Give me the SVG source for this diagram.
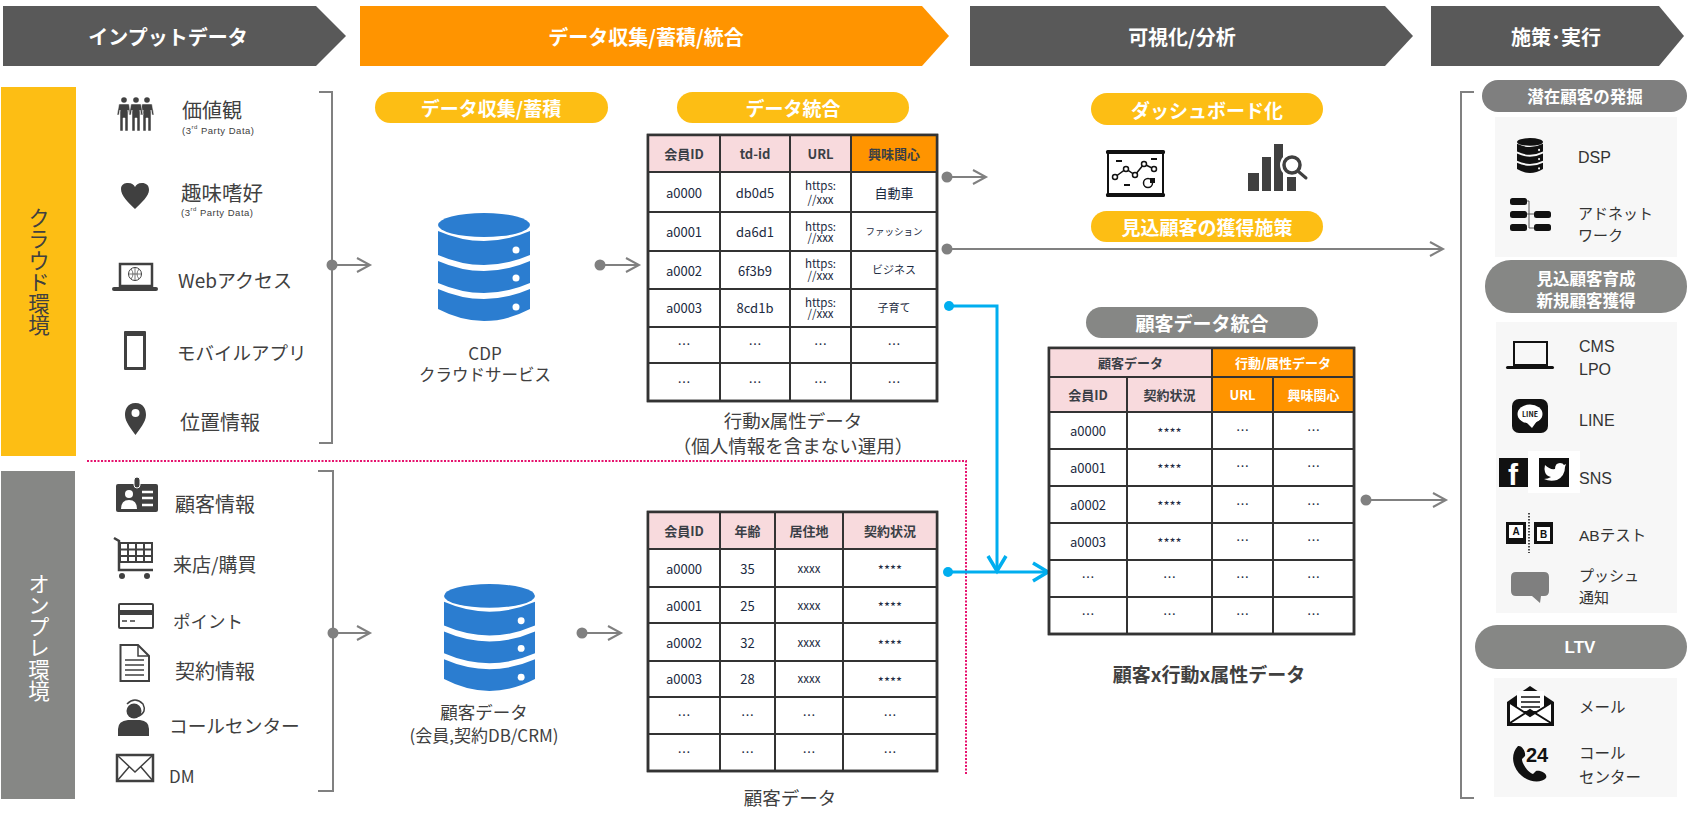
<svg xmlns="http://www.w3.org/2000/svg" width="1700" height="820" viewBox="0 0 1700 820">
<style>
text{font-family:"Noto Sans CJK JP","Noto Sans",sans-serif;dominant-baseline:central;fill:#404040}
.m{text-anchor:middle}
.hd{font-size:20px;font-weight:700;fill:#fff;text-anchor:middle}
.pl{font-size:19px;font-weight:700;fill:#fff;text-anchor:middle}
.it{font-size:19px}
.sub{font-family:"Liberation Sans",sans-serif;font-size:9.5px;letter-spacing:.5px}
.cap{font-size:18.5px;text-anchor:middle}
.th{font-size:13px;font-weight:700;fill:#3a3f46;text-anchor:middle}
.td{font-size:13px;fill:#1b2a41;text-anchor:middle}
.sm{font-size:11.5px;fill:#1b2a41;text-anchor:middle}
.r{font-family:"Liberation Sans","Noto Sans CJK JP",sans-serif;font-size:16px;fill:#333}
.v{font-size:21.5px;writing-mode:vertical-rl;text-orientation:upright}
.grid{fill:none;stroke:#333;stroke-width:2}
.frame{fill:#fff;stroke:#333;stroke-width:2.5}
.pink{fill:#f8dadd}.org{fill:#ff9400}.yel{fill:#fdbe14}.gry{fill:#868785}
.dk{fill:#404040}.bk{fill:#111}
.conn{fill:none;stroke:#808080;stroke-width:2}
.blue{fill:none;stroke:#00aeef;stroke-width:3}
</style>
<defs>
<marker id="ag" markerUnits="userSpaceOnUse" markerWidth="18" markerHeight="20" refX="15" refY="10" orient="auto"><path d="M2 3L15 10L2 17" fill="none" stroke="#808080" stroke-width="2"/></marker>
<marker id="ab" markerUnits="userSpaceOnUse" markerWidth="22" markerHeight="24" refX="18" refY="12" orient="auto"><path d="M3 3L18 12L3 21" fill="none" stroke="#00aeef" stroke-width="3.5"/></marker>
<marker id="dg" markerUnits="userSpaceOnUse" markerWidth="14" markerHeight="14" refX="7" refY="7"><circle cx="7" cy="7" r="5.5" fill="#808080"/></marker>
<marker id="db" markerUnits="userSpaceOnUse" markerWidth="14" markerHeight="14" refX="7" refY="7"><circle cx="7" cy="7" r="5" fill="#00aeef"/></marker>
<symbol id="dbs" viewBox="0 0 92 108" preserveAspectRatio="none">
<ellipse cx="46" cy="12" rx="46" ry="12"/>
<path d="M0 18Q46 38 92 18V42Q46 62 0 42Z"/><path d="M0 48Q46 68 92 48V70Q46 90 0 70Z"/><path d="M0 76Q46 96 92 76V96Q46 120 0 96Z"/>
<circle cx="78" cy="37" r="3.5" fill="#fff"/><circle cx="78" cy="65" r="3.5" fill="#fff"/><circle cx="78" cy="94" r="3.5" fill="#fff"/>
</symbol>
<g id="person"><circle cx="0" cy="3" r="2.8"/><path d="M-5 7H5L7 18H5L4 13V34H1V21H-1V34H-4V13L-5 18H-7Z" stroke="#fff" stroke-width=".5"/></g>
</defs>

<g id="header-input"><path d="M3 6H316L346 36L316 66H3Z" fill="#595959"/><text class="hd" x="168" y="36">インプットデータ</text></g>
<g id="header-collect"><path d="M360 6H922L949 36L922 66H360Z" class="org"/><text class="hd" x="646" y="36">データ収集/蓄積/統合</text></g>
<g id="header-visual"><path d="M970 6H1385L1413 36L1385 66H970Z" fill="#595959"/><text class="hd" x="1182" y="36">可視化/分析</text></g>
<g id="header-action"><path d="M1431 6H1659L1684 36L1659 66H1431Z" fill="#595959"/><text class="hd" x="1556" y="36">施策･実行</text></g>

<g id="band-cloud"><rect x="1" y="87" width="75" height="369" class="yel"/><text class="v" x="39" y="207">クラウド環境</text></g>
<g id="band-onprem"><rect x="1" y="471" width="74" height="328" class="gry"/><text class="v" x="39" y="573" style="fill:#fff">オンプレ環境</text></g>

<g id="item-values" class="dk"><use href="#person" x="124" y="97"/><use href="#person" x="147" y="97"/><use href="#person" x="136" y="97"/>
<text class="it" x="182" y="109" style="font-size:20px">価値観</text><text class="sub" x="182" y="130">(3<tspan font-size="6" dy="-3">rd</tspan><tspan dy="3"> Party Data)</tspan></text></g>
<g id="item-hobby"><path d="M135 209C128 202 121 196 121 189C121 184 125 183 128 183C132 183 134 185 135 187C136 185 138 183 142 183C146 183 149 185 149 190C149 196 142 202 135 209Z" class="dk"/>
<text class="it" x="181" y="192" style="font-size:20.5px">趣味嗜好</text><text class="sub" x="181" y="212">(3<tspan font-size="6" dy="-3">rd</tspan><tspan dy="3"> Party Data)</tspan></text></g>
<g id="item-web"><rect x="120" y="264" width="32" height="22" fill="#fff" stroke="#404040" stroke-width="2.5"/><circle cx="135" cy="274" r="6.5" fill="#fff" stroke="#404040"/><path d="M128.500 274H141.500M135 267.500V280.500M131 269Q135 274 131 279M139 269Q135 274 139 279" fill="none" stroke="#404040" stroke-width=".7"/><rect x="112" y="287" width="46" height="4" rx="2" class="dk"/>
<text class="it" x="178" y="279">Webアクセス</text></g>
<g id="item-mobile"><rect x="124" y="331" width="22" height="39" rx="1" class="dk"/><rect x="127" y="336" width="16" height="31" fill="#fff"/>
<text class="it" x="177" y="352" style="font-size:18.500px">モバイルアプリ</text></g>
<g id="item-location"><path d="M135.500 403C127 403 125 410 125 415C125 422 132 430 135.500 435C139 430 146 422 146 415C146 410 144 403 135.500 403Z" class="dk"/><circle cx="135.500" cy="413" r="4" fill="#fff"/>
<text class="it" x="180" y="421" style="font-size:20px">位置情報</text></g>

<g id="item-customer"><rect x="116" y="484" width="42" height="28" rx="2" class="dk"/><rect x="134" y="477" width="6" height="11" rx="3" class="dk" stroke="#fff"/><circle cx="129" cy="494" r="4" fill="#fff"/><path d="M121 509Q121 500 129 500Q137 500 137 509Z" fill="#fff"/><path d="M142 492H153M142 498H153M142 505H153" stroke="#fff" stroke-width="2.500"/>
<text class="it" x="175" y="503" style="font-size:20px">顧客情報</text></g>
<g id="item-purchase"><path d="M114 538L119 541V570H153" fill="none" stroke="#404040" stroke-width="2.500"/><path d="M120 543H152V562H120ZM120 549.500H152M120 556H152M128 543V562M136 543V562M144 543V562" fill="none" stroke="#404040" stroke-width="2"/><circle cx="122" cy="576" r="3" class="dk"/><circle cx="147" cy="576" r="3" class="dk"/>
<text class="it" x="173" y="563">来店/購買</text></g>
<g id="item-point"><rect x="118" y="603" width="36" height="26" rx="2" class="dk"/><rect x="120" y="605" width="32" height="5" fill="#fff"/><rect x="120" y="615" width="32" height="12" fill="#fff"/><path d="M122 621H127M130 621H135" stroke="#404040" stroke-width="1.500"/>
<text class="it" x="173" y="620" style="font-size:17.500px">ポイント</text></g>
<g id="item-contract"><path d="M120.500 645H138L149 656V681H120.500Z" fill="#fff" stroke="#404040" stroke-width="2"/><path d="M138 645V656H149" fill="none" stroke="#404040" stroke-width="1.500"/><path d="M125 660H144M125 665H144M125 670H144M125 675H144" stroke="#404040" stroke-width="1.500"/>
<text class="it" x="175" y="670" style="font-size:20px">契約情報</text></g>
<g id="item-callcenter"><circle cx="134" cy="711" r="7.500" class="dk"/><path d="M127 704Q135 696 143 704Q147 712 139 716" fill="none" stroke="#404040" stroke-width="1.500"/><path d="M118 736V729Q118 721 128 720H140Q149 721 149 729V736Z" class="dk"/>
<text class="it" x="169" y="724" style="font-size:18.700px">コールセンター</text></g>
<g id="item-dm"><rect x="117" y="755" width="36" height="26" fill="#fff" stroke="#404040" stroke-width="2.500"/><path d="M117 755L135 772L153 755M117 781L129 767M153 781L141 767" fill="none" stroke="#404040" stroke-width="1.500"/>
<text class="it" x="169" y="775" style="font-size:17px">DM</text></g>

<g id="connectors">
<path class="conn" d="M319 92H332V443H319"/>
<path class="conn" d="M318 471H333V791H318"/>
<path class="conn" d="M1474 92H1461V798H1474"/>
<path class="conn" d="M332 265H370" marker-start="url(#dg)" marker-end="url(#ag)"/>
<path class="conn" d="M600 265H639" marker-start="url(#dg)" marker-end="url(#ag)"/>
<path class="conn" d="M333 633H370" marker-start="url(#dg)" marker-end="url(#ag)"/>
<path class="conn" d="M582 633H621" marker-start="url(#dg)" marker-end="url(#ag)"/>
<path class="conn" d="M947 177H986" marker-start="url(#dg)" marker-end="url(#ag)"/>
<path class="conn" d="M947 249H1443" marker-start="url(#dg)" marker-end="url(#ag)"/>
<path class="conn" d="M1366 500H1446" marker-start="url(#dg)" marker-end="url(#ag)"/>
<path d="M87 461H966V775" fill="none" stroke="#e6126e" stroke-width="2" stroke-dasharray="2 1.500"/>
<path class="blue" d="M949 306H997V571" marker-start="url(#db)" marker-end="url(#ab)"/>
<path class="blue" d="M948 572H1048" marker-start="url(#db)" marker-end="url(#ab)"/>
</g>

<g id="pill-collect"><rect x="375" y="92" width="233" height="31" rx="15.500" class="yel"/><text class="pl" x="491" y="107">データ収集/蓄積</text></g>
<g id="db-cdp"><use href="#dbs" x="438" y="213" width="92" height="108" fill="#2b7dd0"/><text class="cap m" x="485" y="352" style="font-size:17px">CDP</text><text class="cap m" x="485" y="374" style="font-size:16.500px">クラウドサービス</text></g>
<g id="db-customer"><use href="#dbs" x="444" y="584" width="91" height="107" fill="#2b7dd0"/><text class="cap m" x="484" y="711" style="font-size:17.500px">顧客データ</text><text class="cap m" x="484" y="734" style="font-size:17px">(会員,契約DB/CRM)</text></g>

<g id="pill-integrate"><rect x="677" y="92" width="232" height="31" rx="15.500" class="yel"/><text class="pl" x="793" y="107">データ統合</text></g>
<g id="table-behavior">
<rect class="frame" x="648" y="135" width="289" height="266"/>
<rect class="pink" x="648" y="135" width="203" height="37"/><rect class="org" x="851" y="135" width="86" height="37"/>
<path class="grid" d="M648 172H937M648 212H937M648 251H937M648 289H937M648 327H937M648 363H937M720 135V401M790 135V401M851 135V401"/>
<rect class="grid" x="648" y="135" width="289" height="266" style="stroke-width:2.500"/>
<text class="th" x="684" y="153">会員ID</text><text class="th" x="755" y="153">td-id</text><text class="th" x="820.500" y="153">URL</text><text class="th" x="894" y="153">興味関心</text>
<text class="td" x="684" y="192">a0000</text><text class="td" x="755" y="192">db0d5</text><text class="sm" x="820.500" y="185">https:</text><text class="sm" x="820.500" y="199">//xxx</text><text class="td" x="894" y="192">自動車</text>
<text class="td" x="684" y="231">a0001</text><text class="td" x="755" y="231">da6d1</text><text class="sm" x="820.500" y="226">https:</text><text class="sm" x="820.500" y="237">//xxx</text><text class="td" x="894" y="231" style="font-size:9.500px">ファッション</text>
<text class="td" x="684" y="270">a0002</text><text class="td" x="755" y="270">6f3b9</text><text class="sm" x="820.500" y="263">https:</text><text class="sm" x="820.500" y="275">//xxx</text><text class="td" x="894" y="269" style="font-size:11px">ビジネス</text>
<text class="td" x="684" y="307">a0003</text><text class="td" x="755" y="307">8cd1b</text><text class="sm" x="820.500" y="302">https:</text><text class="sm" x="820.500" y="313">//xxx</text><text class="td" x="894" y="307" style="font-size:11px">子育て</text>
<text class="td" x="684" y="343">…</text><text class="td" x="755" y="343">…</text><text class="td" x="820.500" y="343">…</text><text class="td" x="894" y="343">…</text>
<text class="td" x="684" y="381">…</text><text class="td" x="755" y="381">…</text><text class="td" x="820.500" y="381">…</text><text class="td" x="894" y="381">…</text>
<text class="cap" x="793" y="420">行動x属性データ</text><text class="cap" x="793" y="445">（個人情報を含まない運用）</text>
</g>

<g id="table-customer">
<rect class="frame" x="648" y="512" width="289" height="259"/>
<rect class="pink" x="648" y="512" width="289" height="37"/>
<path class="grid" d="M648 549H937M648 587H937M648 623H937M648 661H937M648 697H937M648 734H937M720 512V771M775 512V771M843 512V771"/>
<rect class="grid" x="648" y="512" width="289" height="259" style="stroke-width:2.500"/>
<text class="th" x="684" y="530">会員ID</text><text class="th" x="747.500" y="530">年齢</text><text class="th" x="809" y="530">居住地</text><text class="th" x="890" y="530">契約状況</text>
<text class="td" x="684" y="568">a0000</text><text class="td" x="747.500" y="568">35</text><text class="sm" x="809" y="568">xxxx</text><text class="td" x="890" y="569">****</text>
<text class="td" x="684" y="605">a0001</text><text class="td" x="747.500" y="605">25</text><text class="sm" x="809" y="605">xxxx</text><text class="td" x="890" y="606">****</text>
<text class="td" x="684" y="642">a0002</text><text class="td" x="747.500" y="642">32</text><text class="sm" x="809" y="642">xxxx</text><text class="td" x="890" y="644">****</text>
<text class="td" x="684" y="678">a0003</text><text class="td" x="747.500" y="678">28</text><text class="sm" x="809" y="678">xxxx</text><text class="td" x="890" y="681">****</text>
<text class="td" x="684" y="714">…</text><text class="td" x="747.500" y="714">…</text><text class="td" x="809" y="714">…</text><text class="td" x="890" y="714">…</text>
<text class="td" x="684" y="751">…</text><text class="td" x="747.500" y="751">…</text><text class="td" x="809" y="751">…</text><text class="td" x="890" y="751">…</text>
<text class="cap" x="790" y="797">顧客データ</text>
</g>

<g id="pill-dashboard"><rect x="1091" y="93" width="232" height="32" rx="16" class="yel"/><text class="pl" x="1207" y="109">ダッシュボード化</text></g>
<g id="icon-board"><rect x="1106" y="150" width="59" height="4" rx="1.500" class="bk"/><rect x="1106" y="193" width="59" height="4" rx="1.500" class="bk"/><path d="M1108 152V195M1163 152V195" stroke="#111" stroke-width="2"/>
<path d="M1116 161H1122M1151 159H1157M1124 185H1130" stroke="#111" stroke-width="2"/><path d="M1115 177L1126 169L1135 175L1144 164L1154 169" fill="none" stroke="#111" stroke-width="1.500"/>
<g fill="#fff" stroke="#111" stroke-width="1.500"><circle cx="1115" cy="177" r="2.500"/><circle cx="1126" cy="169" r="2.500"/><circle cx="1135" cy="175" r="2.500"/><circle cx="1144" cy="164" r="2.500"/><circle cx="1154" cy="169" r="2.500"/><circle cx="1148" cy="183" r="4.500"/></g><path d="M1150 178H1155V183H1150Z" class="bk"/></g>
<g id="icon-bars" class="dk"><rect x="1248" y="173" width="11" height="18"/><rect x="1262" y="157" width="9" height="34"/><rect x="1274" y="144" width="9" height="47"/><rect x="1287" y="177" width="9" height="14"/>
<circle cx="1292" cy="165" r="10" fill="#fff" stroke="#fff" stroke-width="4"/><circle cx="1292" cy="165" r="8" fill="#fff" stroke="#404040" stroke-width="3.500"/><path d="M1299 172L1306 178" stroke="#404040" stroke-width="3" stroke-linecap="round"/></g>
<g id="pill-prospect"><rect x="1091" y="211" width="232" height="31" rx="15.500" class="yel"/><text class="pl" x="1207" y="226">見込顧客の獲得施策</text></g>

<g id="pill-merge"><rect x="1086" y="307" width="232" height="31" rx="15.500" class="gry"/><text class="pl" x="1202" y="322">顧客データ統合</text></g>
<g id="table-merged">
<rect class="frame" x="1049" y="348" width="305" height="286"/>
<rect class="pink" x="1049" y="348" width="163" height="64"/><rect class="org" x="1212" y="348" width="142" height="64"/>
<path class="grid" d="M1049 377H1354M1049 412H1354M1049 449H1354M1049 486H1354M1049 523H1354M1049 560H1354M1049 597H1354M1127 377V634M1212 348V634M1273 377V634"/>
<rect class="grid" x="1049" y="348" width="305" height="286" style="stroke-width:2.500"/>
<text class="th" x="1130.500" y="362">顧客データ</text><text class="th" x="1283" y="362" style="fill:#fff">行動/属性データ</text>
<text class="th" x="1088" y="394">会員ID</text><text class="th" x="1169.500" y="394">契約状況</text><text class="th" x="1242.500" y="394" style="fill:#fff">URL</text><text class="th" x="1313.500" y="394" style="fill:#fff">興味関心</text>
<text class="td" x="1088" y="430">a0000</text><text class="td" x="1169.500" y="432">****</text><text class="td" x="1242.500" y="429">…</text><text class="td" x="1313.500" y="429">…</text>
<text class="td" x="1088" y="467">a0001</text><text class="td" x="1169.500" y="468">****</text><text class="td" x="1242.500" y="465">…</text><text class="td" x="1313.500" y="465">…</text>
<text class="td" x="1088" y="504">a0002</text><text class="td" x="1169.500" y="505">****</text><text class="td" x="1242.500" y="503">…</text><text class="td" x="1313.500" y="503">…</text>
<text class="td" x="1088" y="541">a0003</text><text class="td" x="1169.500" y="542">****</text><text class="td" x="1242.500" y="539">…</text><text class="td" x="1313.500" y="539">…</text>
<text class="td" x="1088" y="576">…</text><text class="td" x="1169.500" y="576">…</text><text class="td" x="1242.500" y="576">…</text><text class="td" x="1313.500" y="576">…</text>
<text class="td" x="1088" y="613">…</text><text class="td" x="1169.500" y="613">…</text><text class="td" x="1242.500" y="613">…</text><text class="td" x="1313.500" y="613">…</text>
<text class="cap" x="1209" y="673" style="font-weight:700;font-size:19px">顧客x行動x属性データ</text>
</g>

<g id="panel-potential"><rect x="1495" y="117" width="182" height="140" fill="#f7f7f7"/><rect x="1482" y="80" width="205" height="32" rx="16" fill="#7f7f7f"/><text class="pl" x="1585" y="96" style="font-size:16.500px">潜在顧客の発掘</text>
<use href="#dbs" x="1517" y="138" width="26" height="35" fill="#111"/><text class="r" x="1578" y="157">DSP</text>
<g class="bk"><rect x="1510" y="198" width="17" height="7" rx="2.500"/><rect x="1510" y="211" width="17" height="7" rx="2.500"/><rect x="1510" y="224" width="17" height="7" rx="2.500"/><rect x="1534" y="211" width="17" height="7" rx="2.500"/><rect x="1534" y="224" width="17" height="7" rx="2.500"/></g><path d="M1527 201H1529V228H1534M1527 214H1534" fill="none" stroke="#555"/>
<text class="r" x="1578" y="213" style="font-size:15px">アドネット</text><text class="r" x="1578" y="235" style="font-size:15px">ワーク</text></g>

<g id="panel-nurture"><rect x="1496" y="322" width="181" height="291" fill="#f7f7f7"/><rect x="1485" y="260" width="202" height="53" rx="26" class="gry"/><text class="pl" x="1586" y="278" style="font-size:16.500px">見込顧客育成</text><text class="pl" x="1586" y="300" style="font-size:16.500px">新規顧客獲得</text>
<rect x="1514" y="342" width="33" height="23" fill="none" stroke="#111" stroke-width="2"/><rect x="1506" y="366" width="48" height="3" rx="1.500" class="bk"/><text class="r" x="1579" y="346">CMS</text><text class="r" x="1579" y="369">LPO</text>
<rect x="1512" y="399" width="36" height="34" rx="7" class="bk"/><ellipse cx="1530" cy="414" rx="12.500" ry="9.500" fill="#fff"/><path d="M1526 422L1532 428L1537 421Z" fill="#fff"/><text class="m" x="1530" y="414" style="font-size:7px;font-weight:700;fill:#111">LINE</text><text class="r" x="1579" y="420">LINE</text>
<rect x="1528" y="451" width="52" height="42" fill="#fff"/><rect x="1499" y="458" width="29" height="29" class="bk"/><text x="1513" y="474" class="m" style="font-family:'Liberation Sans',sans-serif;font-weight:700;font-size:30px;fill:#fff">f</text><rect x="1539" y="458" width="30" height="29" class="bk"/><path d="M1545 465Q1550 470 1555 469Q1555 463 1560 463Q1563 463 1564 465L1566 464L1565 467Q1565 476 1557 480Q1550 482 1544 479Q1548 479 1551 477Q1546 476 1545 472Q1544 469 1545 465Z" fill="#fff"/><text class="r" x="1579" y="478">SNS</text>
<rect x="1506" y="522" width="20" height="22" class="bk"/><rect x="1509" y="525" width="14" height="13" fill="#fff"/><text class="m" x="1516" y="531" style="font-family:'Liberation Sans',sans-serif;font-size:10px;font-weight:700;fill:#111">A</text><path d="M1529 513V553" stroke="#111" stroke-width="1.500" stroke-dasharray="1.500 1.500"/><rect x="1534" y="522" width="19" height="22" class="bk"/><rect x="1537" y="527" width="13" height="14" fill="#fff"/><text class="m" x="1543.500" y="534" style="font-family:'Liberation Sans',sans-serif;font-size:10px;font-weight:700;fill:#111">B</text><text class="r" x="1579" y="535" style="font-size:15.500px">ABテスト</text>
<path d="M1516 572H1544Q1549 572 1549 577V591Q1549 596 1544 596H1541L1540 603L1532 596H1516Q1511 596 1511 591V577Q1511 572 1516 572Z" fill="#7f7f7f"/><text class="r" x="1579" y="575" style="font-size:15px">プッシュ</text><text class="r" x="1579" y="597" style="font-size:15px">通知</text></g>

<g id="panel-ltv"><rect x="1494" y="678" width="183" height="119" fill="#f7f7f7"/><rect x="1475" y="625" width="212" height="44" rx="22" class="gry"/><text class="pl" x="1580" y="647" style="font-family:'Liberation Sans',sans-serif;font-size:17px">LTV</text>
<path d="M1507 702L1530 686L1554 702V726H1507Z" class="bk"/><rect x="1517" y="691" width="27" height="20" fill="#fff"/><path d="M1521 697H1540M1521 702H1540M1521 707H1540" stroke="#111" stroke-width="1.500"/><path d="M1510 703L1530 716L1551 703V723H1510Z" fill="#fff"/><path d="M1510 703L1530 716L1551 703M1510 723L1530 710L1551 723" fill="none" stroke="#111" stroke-width="2"/><text class="r" x="1579" y="707" style="font-size:15.500px">メール</text>
<path d="M1518 746C1510 754 1512 768 1522 776C1530 783 1542 783 1546 778C1548 774 1541 770 1536 771L1533 774C1528 772 1522 764 1522 759L1525 756C1526 752 1522 745 1518 746Z" class="bk"/><text x="1526" y="755" style="font-family:'Liberation Sans',sans-serif;font-weight:700;font-size:20px;fill:#111">24</text>
<text class="r" x="1579" y="753" style="font-size:15.500px">コール</text><text class="r" x="1579" y="777" style="font-size:15.500px">センター</text></g>
</svg>
